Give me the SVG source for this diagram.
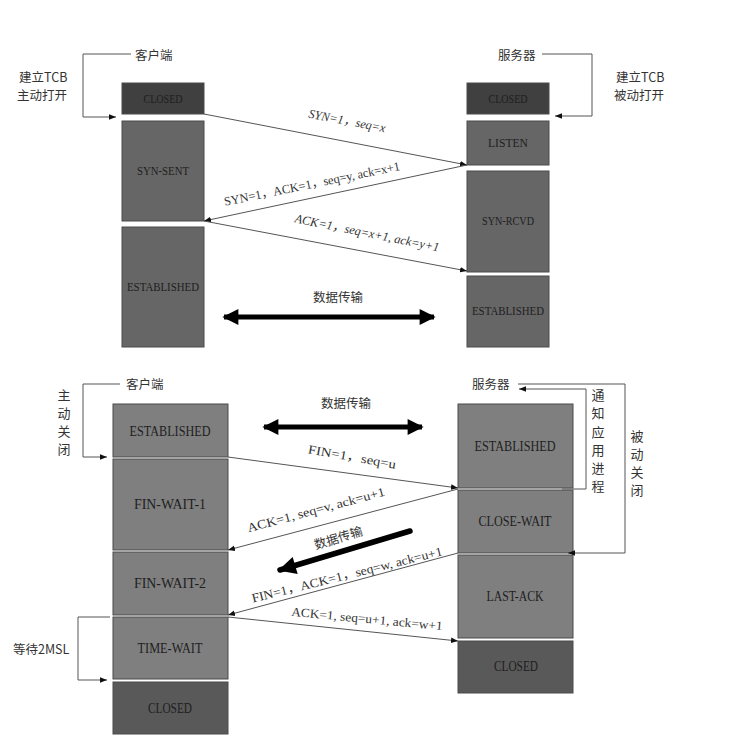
<svg xmlns="http://www.w3.org/2000/svg" width="732" height="751" viewBox="0 0 732 751">
<style>
.bx{stroke:#4a4a4a;stroke-width:1}
.d1{fill:#404040}.d2{fill:#666666}.d3{fill:#7f7f7f}.d4{fill:#595959}
.st{font-family:"Liberation Serif","Noto Sans CJK SC",serif;fill:#1e1e1e;text-anchor:middle;dominant-baseline:central}
.s1{font-size:12.5px}.s2{font-size:14px}
.cn{font-family:"Noto Sans CJK SC",sans-serif;font-size:12.5px;fill:#333;dominant-baseline:central}
.cnv{font-family:"Noto Sans CJK SC",sans-serif;font-size:13px;fill:#333;text-anchor:middle;dominant-baseline:central}
.lb{font-family:"Liberation Serif","Noto Sans CJK SC",serif;font-size:12.5px;fill:#333;text-anchor:middle;dominant-baseline:central}
.ln{fill:none;stroke:#555;stroke-width:1}
.msg{fill:none;stroke:#555;stroke-width:1;marker-end:url(#ah)}
.big{fill:none;stroke:#000;stroke-width:5}
</style>
<defs>
<marker id="ah" viewBox="0 0 10 10" refX="10" refY="5" markerWidth="7" markerHeight="7" markerUnits="userSpaceOnUse" orient="auto">
<path d="M0,1 L10,5 L0,9 z" fill="#111"/>
</marker>
<marker id="bh" viewBox="0 0 10 10" refX="9" refY="5" markerWidth="5" markerHeight="3.2" orient="auto-start-reverse">
<path d="M0,0 L10,5 L0,10 z" fill="#000"/>
</marker>
</defs>

<!-- ===== TOP: establishment ===== -->
<g id="c-closed-1"><rect class="bx d1" x="122" y="83" width="82" height="31"/><text class="st s1" x="163" y="99" textLength="39" lengthAdjust="spacingAndGlyphs">CLOSED</text></g>
<g id="c-synsent"><rect class="bx d2" x="122" y="121" width="82" height="100"/><text class="st s1" x="163" y="171" textLength="52" lengthAdjust="spacingAndGlyphs">SYN-SENT</text></g>
<g id="c-est-1"><rect class="bx d2" x="122" y="227" width="82" height="120"/><text class="st s1" x="163" y="287" textLength="72" lengthAdjust="spacingAndGlyphs">ESTABLISHED</text></g>

<g id="s-closed-1"><rect class="bx d1" x="467" y="83" width="82" height="31"/><text class="st s1" x="508" y="99" textLength="39" lengthAdjust="spacingAndGlyphs">CLOSED</text></g>
<g id="s-listen"><rect class="bx d2" x="467" y="121" width="82" height="44"/><text class="st s1" x="508" y="143" textLength="40" lengthAdjust="spacingAndGlyphs">LISTEN</text></g>
<g id="s-synrcvd"><rect class="bx d2" x="467" y="171" width="82" height="101"/><text class="st s1" x="508" y="221" textLength="52" lengthAdjust="spacingAndGlyphs">SYN-RCVD</text></g>
<g id="s-est-1"><rect class="bx d2" x="467" y="276" width="82" height="71"/><text class="st s1" x="508" y="311" textLength="72" lengthAdjust="spacingAndGlyphs">ESTABLISHED</text></g>

<g id="lbl-top">
<text class="cn" x="135" y="54">客户端</text>
<text class="cn" x="498" y="54">服务器</text>
<text class="cn" x="19" y="76">建立TCB</text>
<text class="cn" x="17" y="94">主动打开</text>
<text class="cn" x="616" y="76">建立TCB</text>
<text class="cn" x="614" y="94">被动打开</text>
<text class="cn" x="313" y="296" font-size="13">数据传输</text>
</g>

<g id="connectors-top">
<polyline class="ln" points="131,54 83,54 83,117 116,117" marker-end="url(#ah)"/>
<polyline class="ln" points="542,54 592,54 592,116 555,116" marker-end="url(#ah)"/>
<line class="msg" x1="204" y1="114" x2="467" y2="165"/>
<line class="msg" x1="467" y1="165" x2="204" y2="221"/>
<line class="msg" x1="204" y1="221" x2="467" y2="271"/>
<line class="big" x1="224" y1="317" x2="434" y2="317" marker-start="url(#bh)" marker-end="url(#bh)"/>
<text class="lb" transform="translate(347,121) rotate(11)" font-style="italic" textLength="78" lengthAdjust="spacingAndGlyphs">SYN=1，seq=x</text>
<text class="lb" transform="translate(312,184) rotate(-11.5)" textLength="179" lengthAdjust="spacingAndGlyphs">SYN=1，ACK=1，seq=y, ack=x+1</text>
<text class="lb" transform="translate(367,233) rotate(11.5)" font-style="italic" textLength="147" lengthAdjust="spacingAndGlyphs">ACK=1，seq=x+1, ack=y+1</text>
</g>

<!-- ===== BOTTOM: termination ===== -->
<g id="c-est-2"><rect class="bx d3" x="113" y="404" width="115" height="53"/><text class="st s2" x="170" y="431" textLength="81" lengthAdjust="spacingAndGlyphs">ESTABLISHED</text></g>
<g id="c-fw1"><rect class="bx d3" x="113" y="459" width="115" height="91"/><text class="st s2" x="170" y="504" textLength="72" lengthAdjust="spacingAndGlyphs">FIN-WAIT-1</text></g>
<g id="c-fw2"><rect class="bx d3" x="113" y="552" width="115" height="63"/><text class="st s2" x="170" y="583" textLength="72" lengthAdjust="spacingAndGlyphs">FIN-WAIT-2</text></g>
<g id="c-tw"><rect class="bx d3" x="113" y="617" width="115" height="62"/><text class="st s2" x="170" y="648" textLength="65" lengthAdjust="spacingAndGlyphs">TIME-WAIT</text></g>
<g id="c-closed-2"><rect class="bx d4" x="113" y="682" width="115" height="52"/><text class="st s2" x="170" y="708" textLength="44" lengthAdjust="spacingAndGlyphs">CLOSED</text></g>

<g id="s-est-2"><rect class="bx d3" x="458" y="404" width="115" height="84"/><text class="st s2" x="515" y="446" textLength="81" lengthAdjust="spacingAndGlyphs">ESTABLISHED</text></g>
<g id="s-cw"><rect class="bx d3" x="458" y="490" width="115" height="63"/><text class="st s2" x="515" y="521" textLength="73" lengthAdjust="spacingAndGlyphs">CLOSE-WAIT</text></g>
<g id="s-la"><rect class="bx d3" x="458" y="555" width="115" height="83"/><text class="st s2" x="515" y="596" textLength="57" lengthAdjust="spacingAndGlyphs">LAST-ACK</text></g>
<g id="s-closed-2"><rect class="bx d4" x="458" y="641" width="115" height="52"/><text class="st s2" x="516" y="666" textLength="44" lengthAdjust="spacingAndGlyphs">CLOSED</text></g>

<g id="lbl-bottom">
<text class="cn" x="126" y="383" font-size="14">客户端</text>
<text class="cn" x="472" y="383" font-size="14">服务器</text>
<text class="cnv" x="64" y="394">主</text>
<text class="cnv" x="64" y="412">动</text>
<text class="cnv" x="64" y="430">关</text>
<text class="cnv" x="64" y="448">闭</text>
<text class="cn" x="13" y="648" font-size="13">等待2MSL</text>
<text class="cnv" x="598" y="394">通</text>
<text class="cnv" x="598" y="412">知</text>
<text class="cnv" x="598" y="431">应</text>
<text class="cnv" x="598" y="449">用</text>
<text class="cnv" x="598" y="467">进</text>
<text class="cnv" x="598" y="485">程</text>
<text class="cnv" x="637" y="435">被</text>
<text class="cnv" x="637" y="453">动</text>
<text class="cnv" x="637" y="471">关</text>
<text class="cnv" x="637" y="489">闭</text>
<text class="cn" x="321" y="402" font-size="14">数据传输</text>
</g>

<g id="connectors-bottom">
<polyline class="ln" points="120,384 83,384 83,457 107,457" marker-end="url(#ah)"/>
<polyline class="ln" points="110,617 78,617 78,680 107,680" marker-end="url(#ah)"/>
<polyline class="ln" points="562,489 586,489 586,389 519,389" marker-end="url(#ah)"/>
<polyline class="ln" points="518,384 625,384 625,553 568,553" marker-end="url(#ah)"/>
<line class="big" x1="264" y1="427" x2="422" y2="427" marker-start="url(#bh)" marker-end="url(#bh)"/>
<line class="msg" x1="228" y1="457" x2="458" y2="488"/>
<line class="msg" x1="458" y1="489" x2="228" y2="550"/>
<line class="msg" x1="458" y1="553" x2="228" y2="615"/>
<line class="msg" x1="228" y1="617" x2="458" y2="641"/>
<line x1="410" y1="531" x2="280" y2="570" stroke="#000" stroke-width="5.5" stroke-linecap="round" marker-end="url(#bh)"/>
<text class="lb" transform="translate(352,457) rotate(10)" textLength="89" lengthAdjust="spacingAndGlyphs">FIN=1，seq=u</text>
<text class="lb" transform="translate(316,510) rotate(-15)" textLength="142" lengthAdjust="spacingAndGlyphs">ACK=1, seq=v, ack=u+1</text>
<text class="cn" transform="translate(338,537) rotate(-17)" text-anchor="middle" font-size="14">数据传输</text>
<text class="lb" transform="translate(347,575) rotate(-14)" textLength="196" lengthAdjust="spacingAndGlyphs">FIN=1，ACK=1，seq=w, ack=u+1</text>
<text class="lb" transform="translate(367,619) rotate(5.5)" textLength="152" lengthAdjust="spacingAndGlyphs">ACK=1, seq=u+1, ack=w+1</text>
</g>
</svg>
